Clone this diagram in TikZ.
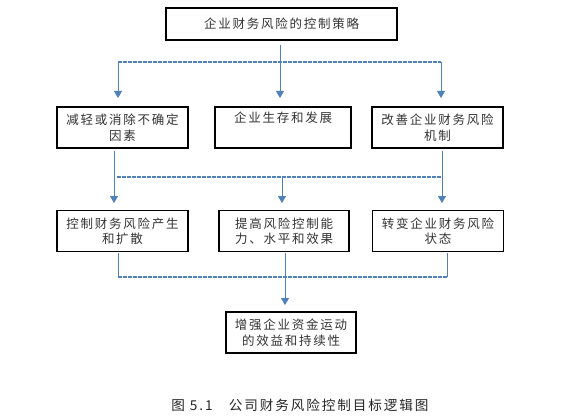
\documentclass[tikz,border=0pt]{standalone}
\usepackage{fontspec}
\setmainfont{Noto Sans CJK SC}[LetterSpace=14]
\newfontfamily\capfont{Noto Sans CJK SC}[LetterSpace=14]
\usetikzlibrary{arrows.meta}
\definecolor{lineblue}{RGB}{79,129,189}
\tikzset{
  box/.style={draw=black, line width=1.2pt, minimum width=#1, minimum height=41pt, inner sep=0pt,
    align=center, font=\fontsize{12.5pt}{15.5pt}\selectfont, text=black!80},
  box/.default=131pt,
  conn/.style={draw=lineblue, line width=0.9pt},
  hconn/.style={draw=lineblue, line width=1.2pt, dash pattern=on 4pt off 1pt},
  arr/.style={conn, -{Triangle[width=8pt,length=7pt]}},
}
\begin{document}
\begin{tikzpicture}[x=1pt,y=-1pt]
\useasboundingbox[fill=white] (0,0) rectangle (567,417);
% top
\node[box=231pt, minimum height=32pt] (top) at (281.5,24) {企业财务风险的控制策略};
% row 1
\node[box] (a1) at (122.5,127.5) {减轻或消除不确定\\因素};
\node[box=136pt] (a2) at (283,127.5) {企业生存和发展\\\strut};
\node[box] (a3) at (437.5,127.5) {改善企业财务风险\\机制};
% row 2
\node[box] (b1) at (122.5,231) {控制财务风险产生\\和扩散};
\node[box=130pt] (b2) at (284,231) {提高风险控制能\\力、水平和效果};
\node[box] (b3) at (438,231) {转变企业财务风险\\状态};
% bottom
\node[box=130pt] (c) at (291,332.5) {增强企业资金运动\\的效益和持续性};
% caption
\node[font=\capfont\fontsize{13.6pt}{16pt}\selectfont, text=black!85] (cap) at (300,405) {图 5.1\hspace{1.2em}公司财务风险控制目标逻辑图};

% connectors top -> row1
\coordinate (t0) at (280,45);
\coordinate (h1l) at (118,62);
\coordinate (h1m) at (280,62);
\coordinate (h1r) at (441,62);
\coordinate (e1l) at (118,98);
\coordinate (e1m) at (280,98);
\coordinate (e1r) at (441,98);
\draw[hconn] (h1l) -- (h1r);
\draw[arr] (t0) -- (e1m);
\draw[arr] (h1l) -- (e1l);
\draw[arr] (h1r) -- (e1r);

% row1 -> row2
\coordinate (s2l) at (114,151);
\coordinate (s2r) at (442,151);
\coordinate (h2l) at (117,177);
\coordinate (h2m) at (282,177);
\coordinate (h2r) at (442,177);
\coordinate (e2l) at (114,203);
\coordinate (e2m) at (282,203);
\coordinate (e2r) at (442,203);
\draw[hconn] (h2l) -- (h2r);
\draw[arr] (s2l) -- (e2l);
\draw[arr] (h2m) -- (e2m);
\draw[arr] (s2r) -- (e2r);

% row2 -> bottom
\coordinate (s3l) at (118,253);
\coordinate (s3m) at (285,253);
\coordinate (s3r) at (447,253);
\coordinate (h3l) at (118,277);
\coordinate (h3r) at (447,277);
\coordinate (e3m) at (285,305);
\draw[conn] (s3l) -- (h3l);
\draw[conn] (s3r) -- (h3r);
\draw[hconn] (h3l) -- (h3r);
\draw[arr] (s3m) -- (e3m);
\end{tikzpicture}
\end{document}
